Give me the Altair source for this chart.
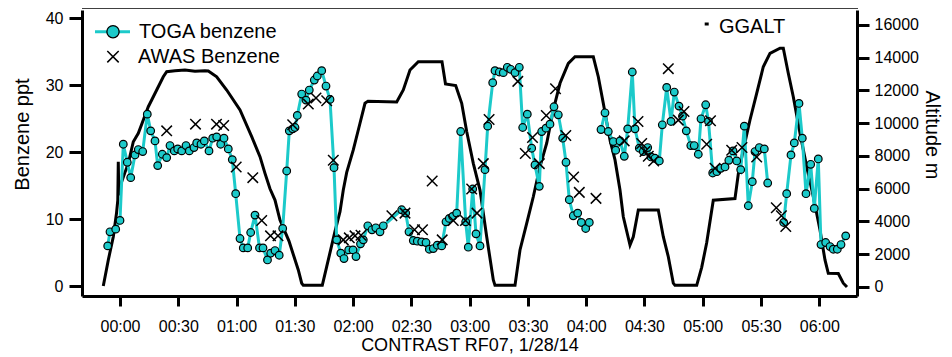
import altair as alt
import numpy as np
import pandas as pd

# ---------------- data (times in minutes after 00:00 UTC, 1/28/14) ----------------
toga_time = [-6.33, -5.15, -2.21, 0.0, 1.70, 3.76, 5.51, 7.72, 9.42, 11.69,
             14.05, 15.80, 18.02, 19.41, 21.78, 24.04, 25.74, 27.95, 29.70, 31.76,
             33.98, 35.68, 38.10, 39.49, 41.70, 43.40, 45.82, 47.72, 49.78, 51.84,
             53.54, 55.75, 57.81, 59.56, 61.78, 63.47, 65.74, 67.28, 69.50, 71.82,
             73.62, 75.93, 77.58, 79.79, 81.96, 83.76, 85.82, 87.16, 88.91, 90.09,
             91.27, 93.54, 95.75, 97.45, 100.03, 101.57, 103.84, 106.05, 108.11, 110.17,
             111.56, 113.67, 115.32, 117.73, 119.95, 121.49, 123.81, 125.25, 127.57, 129.73,
             131.69, 133.85, 135.55, 145.02, 147.08, 148.78, 150.99, 153.05, 155.31, 157.53,
             159.23, 161.29, 163.34, 165.61, 167.82, 169.52, 171.27, 173.33, 175.39, 177.96,
             179.30, 181.57, 183.27, 185.33, 187.90, 189.29, 191.87, 193.05, 195.26, 197.32,
             199.38, 201.13, 203.35, 205.56, 207.31, 209.68, 211.94, 213.64, 215.86, 217.09,
             219.30, 221.36, 223.42, 225.64, 227.90, 229.60, 231.30, 233.36, 235.62, 237.48,
             239.74, 241.60, 247.62, 249.68, 251.38, 253.95, 255.19, 257.40, 259.61, 261.36,
             263.73, 265.12, 267.34, 269.40, 271.66, 273.36, 275.42, 277.64, 279.18, 281.44,
             283.66, 285.35, 287.77, 289.58, 291.53, 293.85, 295.60, 297.71, 299.10, 301.52,
             302.96, 305.13, 307.29, 309.30, 311.46, 313.42, 315.58, 317.49, 319.54, 321.40,
             323.45, 325.51, 326.90, 329.11, 331.69, 333.44, 341.67, 343.21, 345.43, 347.13,
             349.55, 351.25, 353.15, 355.57, 357.42, 359.48, 360.87, 363.29, 365.51, 367.21,
             369.27, 371.18, 373.60]
toga_benzene = [6.0, 8.1, 8.5, 9.8, 21.2, 18.5, 16.2, 19.6, 20.4, 20.1,
                25.7, 23.2, 21.7, 18.0, 19.7, 19.2, 21.0, 20.2, 20.5, 20.2,
                21.0, 20.2, 20.7, 21.4, 21.2, 21.7, 20.2, 22.1, 22.3, 21.2,
                22.1, 20.5, 18.9, 13.8, 7.1, 5.7, 5.7, 8.0, 10.6, 5.7,
                5.7, 3.9, 4.9, 5.3, 4.6, 8.6, 17.2, 23.2, 23.5, 23.7,
                25.5, 28.7, 27.8, 29.3, 30.8, 31.4, 32.2, 29.9, 27.9, 17.7,
                6.9, 4.9, 4.1, 5.4, 5.4, 4.4, 6.3, 6.9, 9.0, 8.4,
                8.7, 8.1, 9.0, 11.4, 10.9, 8.1, 6.8, 6.7, 6.6, 6.5,
                5.5, 5.6, 6.1, 6.0, 9.6, 10.1, 10.4, 10.9, 23.1, 9.6,
                5.8, 14.5, 7.8, 6.0, 17.4, 23.9, 30.4, 32.2, 32.0, 31.9,
                32.7, 32.4, 31.9, 32.7, 23.7, 25.7, 20.6, 18.1, 14.9, 23.1,
                23.6, 24.2, 26.8, 25.6, 22.1, 18.5, 12.9, 10.5, 10.9, 9.5,
                8.6, 9.5, 23.4, 25.9, 23.1, 21.6, 20.3, 21.7, 19.4, 23.5,
                32.0, 23.5, 20.6, 20.1, 20.7, 19.3, 19.1, 18.7, 24.1, 29.7,
                24.6, 29.0, 26.9, 25.4, 23.2, 21.0, 21.0, 19.7, 25.0, 27.1,
                24.6, 16.9, 17.1, 17.6, 17.8, 18.8, 20.2, 18.7, 17.4, 23.9,
                12.0, 15.6, 20.1, 20.7, 20.5, 15.4, 9.5, 13.8, 19.6, 21.4,
                27.3, 22.1, 13.8, 18.2, 11.6, 19.0, 6.2, 6.5, 5.9, 5.5,
                5.5, 6.2, 7.5]
toga_breaks = [244.0, 337.0]  # the TOGA trace is interrupted at these times

awas_time = [24.04, 38.87, 49.68, 53.38, 59.82, 68.36, 72.95, 77.48, 81.34, 88.91,
             96.94, 100.90, 106.41, 109.81, 114.95, 118.04, 120.98, 124.07, 139.97, 146.72,
             151.61, 155.73, 160.72, 165.87, 171.58, 177.86, 181.05, 183.78, 187.03, 190.01,
             204.79, 208.65, 212.36, 215.86, 219.46, 224.20, 229.50, 233.51, 236.45, 245.05,
             259.56, 266.67, 268.57, 270.27, 271.97, 274.75, 282.27, 287.42, 290.35, 302.03,
             303.99, 306.31, 314.91, 320.21, 327.77, 337.86, 340.49, 342.75]
awas_benzene = [23.2, 24.2, 24.2, 24.0, 17.8, 16.2, 9.8, 7.5, 7.5, 24.1,
                27.2, 28.1, 27.7, 18.8, 6.9, 7.2, 7.5, 7.6, 10.5, 10.9,
                8.4, 8.4, 15.7, 6.9, 9.8, 9.8, 14.5, 10.9, 18.3, 24.9,
                30.6, 19.8, 22.2, 18.3, 25.5, 29.5, 22.5, 16.3, 14.0, 13.1,
                21.7, 24.6, 21.3, 20.1, 19.4, 18.7, 32.5, 24.8, 26.1, 21.2,
                24.7, 17.6, 20.3, 20.7, 19.3, 11.7, 10.5, 8.9]

ggalt_time = [-8.60, -6.02, -3.45, -1.80, -1.13, -0.88, -0.62, 0.51, 2.57, 4.27,
              6.85, 9.42, 12.00, 14.57, 16.32, 18.89, 22.29, 24.04, 28.31, 33.46,
              38.61, 43.76, 45.46, 49.78, 54.93, 61.78, 67.80, 72.07, 74.65, 77.22,
              79.79, 82.37, 87.00, 91.79, 93.54, 94.36, 104.14, 106.41, 110.68, 113.26,
              114.95, 116.71, 120.10, 123.55, 126.13, 127.67, 142.45, 145.84, 149.29, 153.56,
              165.77, 167.57, 172.82, 175.91, 178.48, 181.88, 185.33, 188.78, 192.18, 193.05,
              203.35, 205.92, 209.37, 212.77, 216.22, 219.67, 223.06, 226.51, 230.79, 234.23,
              243.66, 246.23, 248.80, 252.25, 254.83, 257.40, 259.10, 262.55, 264.25, 266.83,
              277.12, 279.69, 282.27, 284.84, 285.71, 296.89, 299.46, 302.03, 305.43, 316.60,
              318.30, 320.87, 324.32, 327.77, 331.17, 334.62, 339.77, 341.47, 344.04, 346.61,
              350.06, 353.51, 356.92, 360.36, 362.93, 364.63, 369.78, 372.36, 374.26]
ggalt_alt = [60, 1650, 3070, 4500, 5300, 7650, 5600, 6300, 7000, 7550,
             8870, 9390, 10200, 11010, 11420, 12030, 12840, 13150, 13200, 13250,
             13180, 13200, 13190, 12840, 12030, 10810, 9180, 7960, 6940, 6000,
             5310, 4090, 2800, 1040, 230, 100, 100, 1240, 3400, 4600,
             5920, 7000, 8370, 10000, 11220, 11350, 11300, 12030, 13250, 13760,
             13760, 12400, 12300, 11220, 9500, 7550, 5920, 3070, 430, 100,
             100, 2260, 3890, 5510, 7350, 8780, 10810, 12440, 13660, 14060,
             14060, 12840, 11220, 8980, 7760, 5920, 4290, 2560, 3070, 4700,
             4700, 3070, 1850, 230, 100, 100, 1200, 2700, 5300, 5400,
             6900, 8370, 10200, 11830, 13450, 14270, 14580, 14580, 13050, 11620,
             9390, 7350, 5510, 3480, 1650, 840, 820, 230, 0]

x_ticks = [0, 30, 60, 90, 120, 150, 180, 210, 240, 270, 300, 330, 360]
benz_ticks = [0, 10, 20, 30, 40]
alt_ticks = [0, 2000, 4000, 6000, 8000, 10000, 12000, 14000, 16000]

# ---------------- tables ----------------
toga = pd.DataFrame({"t": toga_time, "benzene": toga_benzene})
toga["seg"] = np.searchsorted(toga_breaks, toga["t"].to_numpy())
awas = pd.DataFrame({"t": awas_time, "benzene": awas_benzene})
ggalt = pd.DataFrame({"t": ggalt_time, "altitude": ggalt_alt})
one = pd.DataFrame({"k": [0]})

FONT = "Liberation Sans"
CYAN = "#1ccaca"
W, H = 775, 286

x_enc = alt.X(
    "t:Q",
    scale=alt.Scale(domain=[-19.56, 379.41], nice=False, zero=False),
    axis=alt.Axis(
        values=x_ticks,
        labelExpr="(datum.value < 600 ? '0' : '') + floor(datum.value / 60) + ':' + "
                  "(datum.value % 60 < 10 ? '0' : '') + (datum.value % 60)",
        title="CONTRAST RF07, 1/28/14",
        tickSize=10, labelPadding=12, titlePadding=2, titleFontSize=18,
    ),
)
y_benz = alt.Y(
    "benzene:Q",
    scale=alt.Scale(domain=[-1.495, 41.27], nice=False, zero=False),
    axis=alt.Axis(orient="left", values=benz_ticks, title="Benzene ppt",
                  tickSize=13, labelPadding=6, titleFontSize=20,
                  titleX=-49.8, titleY=124),
)
y_alt = alt.Y(
    "altitude:Q",
    scale=alt.Scale(domain=[-550, 16916], nice=False, zero=False),
    axis=alt.Axis(orient="right", values=alt_ticks, format="d", title="Altitude m",
                  tickSize=12, labelPadding=5, titleFontSize=20,
                  titleX=64, titleY=124.5),
)

ggalt_line = alt.Chart(ggalt).mark_line(color="black", strokeWidth=3).encode(x=x_enc, y=y_alt)

toga_line = alt.Chart(toga).mark_line(color=CYAN, strokeWidth=3).encode(
    x=x_enc, y=y_benz, detail="seg:N")
toga_pts = alt.Chart(toga).mark_point(
    shape="circle", filled=True, fill=CYAN, fillOpacity=1, stroke="black",
    strokeWidth=1.2, size=58, opacity=1).encode(x=x_enc, y=y_benz)
XSHAPE = "M-1,-1L1,1M-1,1L1,-1"
awas_pts = alt.Chart(awas).mark_point(
    shape=XSHAPE, filled=False, stroke="black", strokeWidth=1.5, size=110,
    opacity=1).encode(x=x_enc, y=y_benz)

benz_layer = alt.layer(toga_line, toga_pts, awas_pts)

# ---------------- legend / frame ----------------
top_rule = alt.Chart(one).mark_rule(color="black", strokeWidth=3).encode(
    x=alt.value(0), x2=alt.value(W + 1), y=alt.value(-2.7))
leg_line = alt.Chart(one).mark_rule(color=CYAN, strokeWidth=3).encode(
    x=alt.value(13), x2=alt.value(48), y=alt.value(21.7))
leg_circ = alt.Chart(one).mark_point(
    shape="circle", filled=True, fill=CYAN, fillOpacity=1, stroke="black",
    strokeWidth=1.3, size=150, opacity=1).encode(x=alt.value(31), y=alt.value(21.7))
leg_x = alt.Chart(one).mark_point(
    shape=XSHAPE, filled=False, stroke="black", strokeWidth=1.5, size=130,
    opacity=1).encode(x=alt.value(31), y=alt.value(46.7))
leg_t1 = alt.Chart(one).mark_text(
    text="TOGA benzene", align="left", baseline="alphabetic", font=FONT,
    fontSize=20, color="black").encode(x=alt.value(57), y=alt.value(28.3))
leg_t2 = alt.Chart(one).mark_text(
    text="AWAS Benzene", align="left", baseline="alphabetic", font=FONT,
    fontSize=20, color="black").encode(x=alt.value(56), y=alt.value(52.7))
leg_dash = alt.Chart(one).mark_rule(color="black", strokeWidth=3).encode(
    x=alt.value(622.7), x2=alt.value(626.7), y=alt.value(14))
leg_t3 = alt.Chart(one).mark_text(
    text="GGALT", align="left", baseline="alphabetic", font=FONT,
    fontSize=20, color="black").encode(x=alt.value(637), y=alt.value(23.3))

chart = alt.layer(
    ggalt_line, benz_layer, top_rule, leg_line, leg_circ, leg_x,
    leg_t1, leg_t2, leg_dash, leg_t3,
).resolve_scale(y="independent").properties(
    width=W, height=H,
    padding={"left": 74, "top": 2, "right": 87, "bottom": 60},
    autosize=alt.AutoSizeParams(type="none"),
).configure_view(stroke=None).configure_axis(
    grid=False, labelFont=FONT, titleFont=FONT, labelFontSize=16,
    labelColor="black", titleColor="black", titleFontWeight="normal",
    domainColor="black", tickColor="black", domainWidth=3, tickWidth=3,
    labelFlush=False, labelOverlap=False,
)

chart.save("out.html", embed_options={"renderer": "svg", "actions": False})
